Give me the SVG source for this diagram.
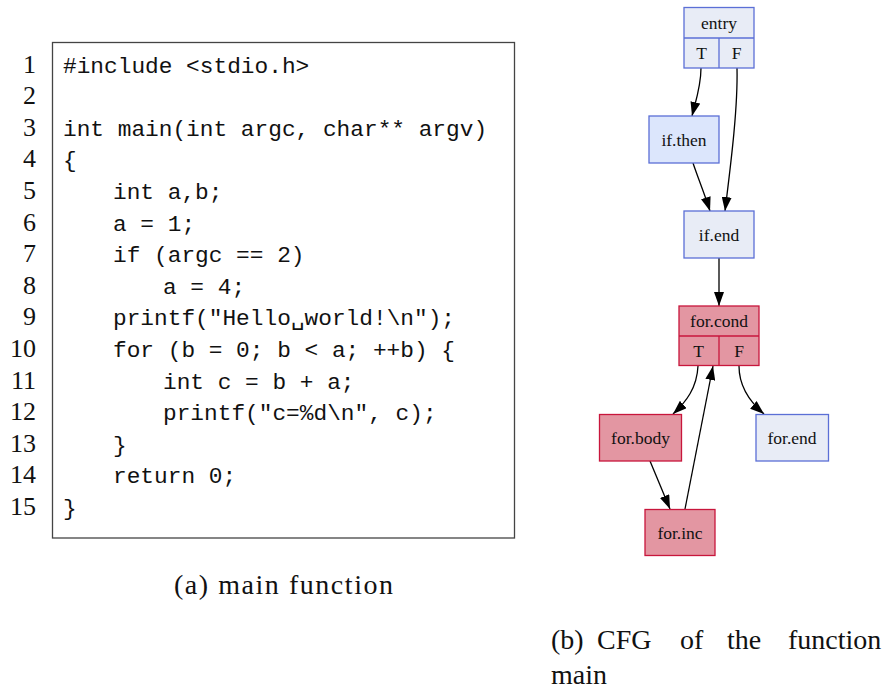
<svg xmlns="http://www.w3.org/2000/svg" width="883" height="690" viewBox="0 0 883 690">
<style>
.ln{font-family:"Liberation Serif","Times New Roman",serif;font-size:26px;fill:#111;text-anchor:end}
.code{font-family:"Liberation Mono","DejaVu Sans Mono",monospace;font-size:22.8px;fill:#111;white-space:pre}
.cap{font-family:"Liberation Serif","Times New Roman",serif;font-size:28px;fill:#111}
.lbl{font-family:"Liberation Serif","Times New Roman",serif;font-size:17.5px;fill:#111;text-anchor:middle}
.blue{fill:#e8ecf6;stroke:#5b6fd6;stroke-width:1.3}
.blue2{fill:#dce6fc;stroke:#5b6fd6;stroke-width:1.3}
.red{fill:#e396a2;stroke:#c8163c;stroke-width:1.3}
.edge{fill:none;stroke:#000;stroke-width:1.3;marker-end:url(#arr)}
</style>
<defs>
<marker id="arr" markerUnits="userSpaceOnUse" markerWidth="14" markerHeight="10" refX="14" refY="5" orient="auto">
<path d="M0,0 L14,5 L0,10 z" fill="#000"/>
</marker>
</defs>
<rect width="883" height="690" fill="#fff"/>

<g id="code">
<rect x="52.5" y="42.5" width="462" height="495.5" fill="none" stroke="#444" stroke-width="1.3"/>
<text class="ln" x="36" y="72.5">1</text>
<text class="ln" x="36" y="104.1">2</text>
<text class="ln" x="36" y="135.7">3</text>
<text class="ln" x="36" y="167.3">4</text>
<text class="ln" x="36" y="198.9">5</text>
<text class="ln" x="36" y="230.5">6</text>
<text class="ln" x="36" y="262.1">7</text>
<text class="ln" x="36" y="293.7">8</text>
<text class="ln" x="36" y="325.3">9</text>
<text class="ln" x="36" y="356.9">10</text>
<text class="ln" x="36" y="388.5">11</text>
<text class="ln" x="36" y="420.1">12</text>
<text class="ln" x="36" y="451.7">13</text>
<text class="ln" x="36" y="483.3">14</text>
<text class="ln" x="36" y="514.9">15</text>
<text class="code" x="63" y="72.5">#include &lt;stdio.h&gt;</text>
<text class="code" x="63" y="135.7">int main(int argc, char** argv)</text>
<text class="code" x="63" y="167.3">{</text>
<text class="code" x="113" y="198.9">int a,b;</text>
<text class="code" x="113" y="230.5">a = 1;</text>
<text class="code" x="113" y="262.1">if (argc == 2)</text>
<text class="code" x="163" y="293.7">a = 4;</text>
<text class="code" x="113" y="325.3">printf("Hello␣world!\n");</text>
<text class="code" x="113" y="356.9">for (b = 0; b &lt; a; ++b) {</text>
<text class="code" x="163" y="388.5">int c = b + a;</text>
<text class="code" x="163" y="420.1">printf("c=%d\n", c);</text>
<text class="code" x="113" y="451.7">}</text>
<text class="code" x="113" y="483.3">return 0;</text>
<text class="code" x="63" y="514.9">}</text>
</g>

<g id="captions">
<text class="cap" x="174" y="594" textLength="219" lengthAdjust="spacing">(a) main function</text>
<text class="cap" y="649"><tspan x="551">(b)</tspan><tspan x="597">CFG</tspan><tspan x="680">of</tspan><tspan x="727">the</tspan><tspan x="788">function</tspan></text>
<text class="cap" x="551" y="684">main</text>
</g>

<g id="connectors">
<path class="edge" d="M701,68 C701,86 696,100 692,116"/>
<path class="edge" d="M737,68 C738,110 730,170 725,211"/>
<path class="edge" d="M693,163 C698,178 705,195 710,211"/>
<path class="edge" d="M719,258 L719,306"/>
<path class="edge" d="M698,366 C697,388 686,402 673,414"/>
<path class="edge" d="M739,366 C739,386 750,402 764,414"/>
<path class="edge" d="M650,461 L670,509"/>
<path class="edge" d="M685,509 L713,366"/>
</g>

<g id="entry">
<rect class="blue" x="684" y="7.5" width="70" height="60.5"/>
<line x1="684" y1="38" x2="754" y2="38" stroke="#5b6fd6" stroke-width="1.3"/>
<line x1="719" y1="38" x2="719" y2="68" stroke="#5b6fd6" stroke-width="1.3"/>
<text class="lbl" x="719" y="28.5">entry</text>
<text class="lbl" x="701.5" y="59">T</text>
<text class="lbl" x="736.5" y="59">F</text>
</g>

<g id="if.then">
<rect class="blue2" x="649" y="116" width="70" height="47"/>
<text class="lbl" x="684" y="145.5">if.then</text>
</g>

<g id="if.end">
<rect class="blue" x="684" y="211" width="70" height="47"/>
<text class="lbl" x="719" y="240.5">if.end</text>
</g>

<g id="for.cond">
<rect class="red" x="679" y="306" width="80" height="59.5"/>
<line x1="679" y1="336" x2="759" y2="336" stroke="#c8163c" stroke-width="1.3"/>
<line x1="719" y1="336" x2="719" y2="365.5" stroke="#c8163c" stroke-width="1.3"/>
<text class="lbl" x="719" y="326.5">for.cond</text>
<text class="lbl" x="698.5" y="357">T</text>
<text class="lbl" x="739" y="357">F</text>
</g>

<g id="for.body">
<rect class="red" x="599.5" y="414.5" width="82" height="46.5"/>
<text class="lbl" x="640.5" y="443.5">for.body</text>
</g>

<g id="for.end">
<rect class="blue" x="756" y="414.5" width="72.5" height="46.5"/>
<text class="lbl" x="792" y="443.5">for.end</text>
</g>

<g id="for.inc">
<rect class="red" x="645" y="509.5" width="70" height="46"/>
<text class="lbl" x="680" y="538.5">for.inc</text>
</g>
</svg>
